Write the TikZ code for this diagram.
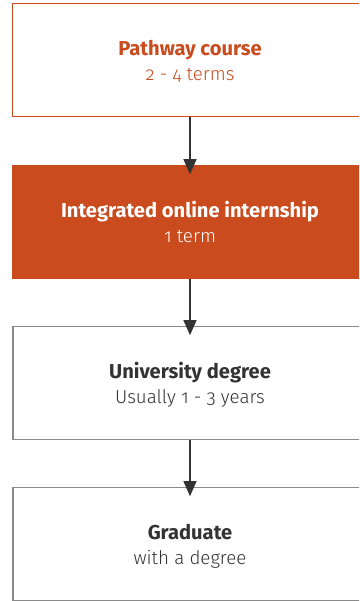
\documentclass[tikz,border=0pt]{standalone}
\usepackage{fontspec}
\setmainfont{Fira Sans}[Numbers=OldStyle]
\newfontfamily\lightfont{Fira Sans Light}[Numbers=OldStyle]
\usetikzlibrary{arrows.meta}
\definecolor{rust}{HTML}{C94B1E}
\definecolor{ink}{HTML}{333333}
\definecolor{edge}{HTML}{8A8A8A}
\tikzset{
  x=1bp,y=1bp,
  boxo/.style={draw=rust, line width=1bp, fill=white, minimum width=357bp, minimum height=113bp, inner sep=0pt},
  boxf/.style={draw=rust, fill=rust, line width=1bp, minimum width=357bp, minimum height=113bp, inner sep=0pt},
  boxg/.style={draw=edge, line width=1.2bp, fill=white, minimum width=357bp, minimum height=113bp, inner sep=0pt},
  ttl/.style={anchor=base, font=\fontsize{20.2}{22}\selectfont\bfseries, inner sep=0pt},
  sub/.style={anchor=base, font=\fontsize{18.8}{20}\selectfont\lightfont, inner sep=0pt},
  flow/.style={draw=ink, line width=1.1bp, -{Triangle[width=13bp,length=15bp]}, shorten >=-9bp},
}
\begin{document}
\begin{tikzpicture}
\useasboundingbox (0,0) rectangle (359,-601);
\clip (0,0) rectangle (359,-601);
\node[boxo] (b1) at (191.5,-60.5) {};
\node[boxf] (b2) at (191.5,-222.2) {};
\node[boxg] (b3) at (191.5,-383.3) {};
\node[boxg] (b4) at (191.5,-544.3) {};
\node[ttl, text=rust] (t1) at ([xshift=-1.5bp,yshift=5bp]b1.center) {Pathway course};
\node[sub, text=rust] (s1) at ([xshift=-1.5bp,yshift=-20bp]b1.center) {2 - 4 terms};
\node[ttl, text=white] (t2) at ([xshift=-1.5bp,yshift=5bp]b2.center) {Integrated online internship};
\node[sub, text=white] (s2) at ([xshift=-1.5bp,yshift=-20bp]b2.center) {1 term};
\node[ttl, text=ink] (t3) at ([xshift=-1.5bp,yshift=5bp]b3.center) {University degree};
\node[sub, text=ink] (s3) at ([xshift=-1.5bp,yshift=-20bp]b3.center) {Usually 1 - 3 years};
\node[ttl, text=ink] (t4) at ([xshift=-1.5bp,yshift=5bp]b4.center) {Graduate};
\node[sub, text=ink] (s4) at ([xshift=-1.5bp,yshift=-20bp]b4.center) {with a degree};
\draw[flow] ([xshift=-1.5bp]b1.south) -- ([xshift=-1.5bp]b2.north);
\draw[flow] ([xshift=-1.5bp]b2.south) -- ([xshift=-1.5bp]b3.north);
\draw[flow] ([xshift=-1.5bp]b3.south) -- ([xshift=-1.5bp]b4.north);
\end{tikzpicture}
\end{document}
